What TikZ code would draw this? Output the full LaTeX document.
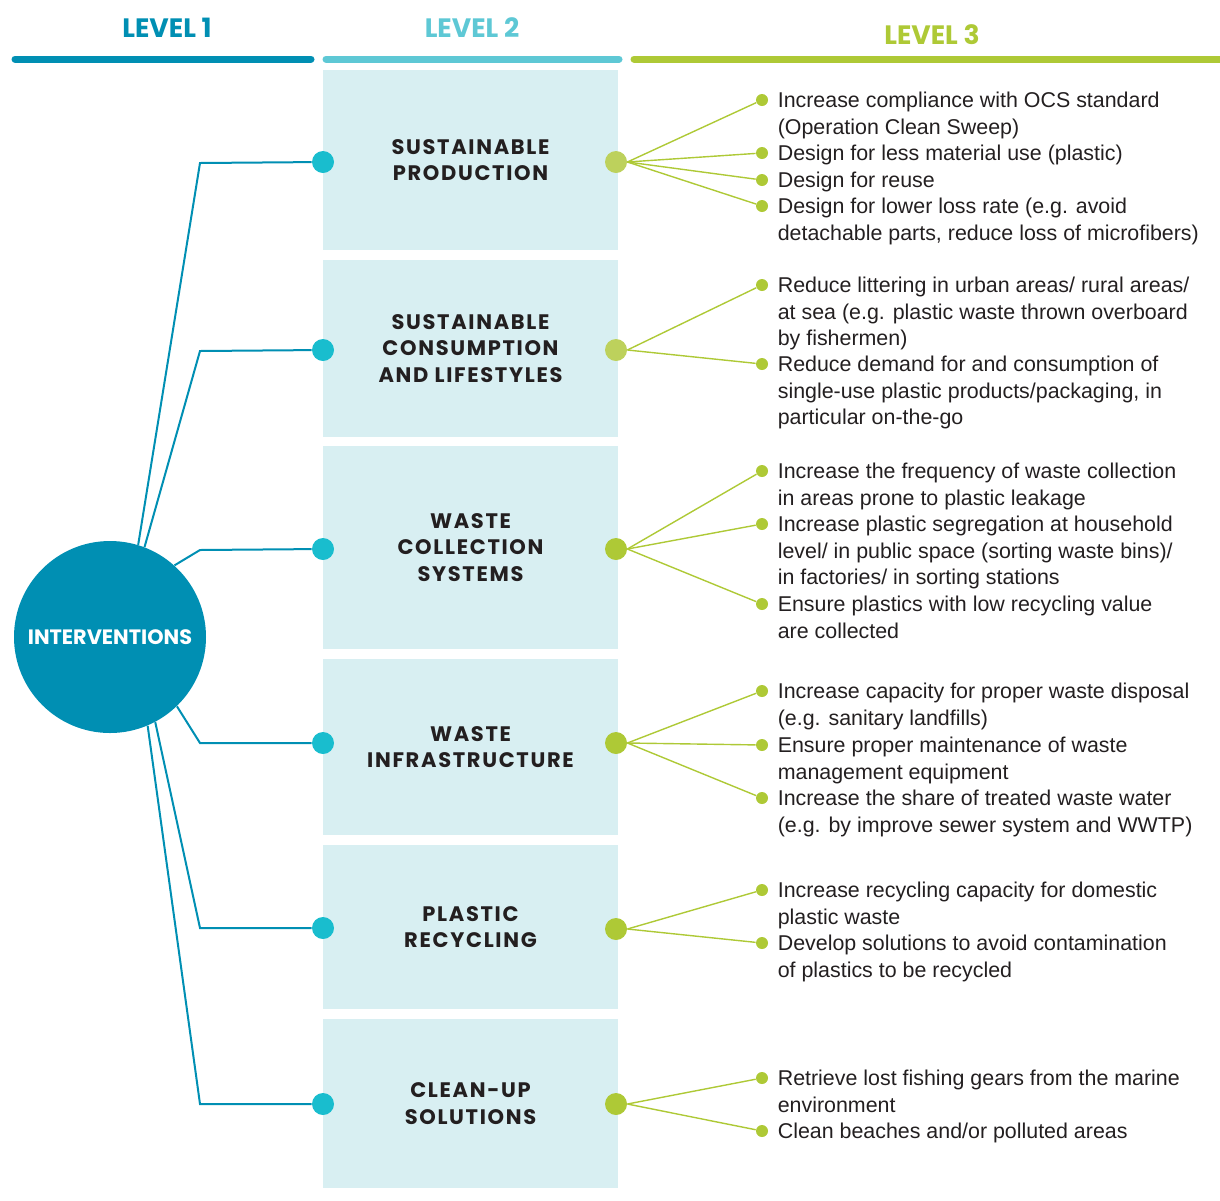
\documentclass[tikz,border=0pt]{standalone}
\usepackage{fontspec}
\setmainfont{Liberation Sans}
\newfontfamily\headfont{Poppins}
\newfontfamily\capsfont{Poppins}[LetterSpace=8]
\usepackage{xcolor}
\definecolor{levelone}{HTML}{008FB3}
\definecolor{leveltwo}{HTML}{5EC8D5}
\definecolor{levelthree}{HTML}{AEC936}
\definecolor{limesoft}{HTML}{BDD15C}
\definecolor{boxfill}{HTML}{D8EFF2}
\definecolor{dotcyan}{HTML}{19BDCE}
\definecolor{ink}{HTML}{231F20}

\begin{document}
\begin{tikzpicture}[x=0.5pt, y=-0.5pt,
    level/.style = {font=\headfont\bfseries\fontsize{13.3}{15}\selectfont},
    bar/.style = {line width=3.5pt, line cap=round},
    box/.style = {rectangle, fill=boxfill, minimum width=147.5pt, inner sep=0pt,
      align=center, text=ink, font=\capsfont\bfseries\fontsize{10.5}{13.25}\selectfont},
    hub/.style = {circle, fill=levelone, minimum size=96pt, inner sep=0pt,
      text=white, font=\headfont\bfseries\fontsize{10.4}{12}\selectfont},
    cdot/.style = {circle, fill=dotcyan, minimum size=11pt, inner sep=0pt},
    ldot/.style = {circle, fill=levelthree, minimum size=11pt, inner sep=0pt},
    bullet/.style = {circle, fill=levelthree, minimum size=6pt, inner sep=0pt},
    item/.style = {anchor=north west, align=left, inner sep=0pt, text=ink,
      font=\fontsize{10.7}{13.25}\selectfont},
    trunk/.style = {draw=levelone, line width=1pt},
    twig/.style = {draw=levelthree, line width=0.7pt}]
  \useasboundingbox (0,0) rectangle (1220,1200);

  % headers
  \node[level, text=levelone] (h1) at (167,28) {LEVEL 1};
  \node[level, text=leveltwo] (h2) at (472,28) {LEVEL 2};
  \node[level, text=levelthree] (h3) at (932,35) {LEVEL 3};
  \draw[bar, levelone] (15,59) -- (311,59);
  \draw[bar, leveltwo] (326,59) -- (619,59);
  \draw[bar, levelthree] (634,59) -- (1226,59);

  % level 2 boxes
  \node[box, minimum height=90pt] (b1) at (470.5,160) {SUSTAINABLE\\PRODUCTION};
  \node[box, minimum height=88.5pt] (b2) at (470.5,348.5) {SUSTAINABLE\\CONSUMPTION\\AND LIFESTYLES};
  \node[box, minimum height=101.5pt] (b3) at (470.5,547.5) {WASTE\\COLLECTION\\SYSTEMS};
  \node[box, minimum height=88pt] (b4) at (470.5,747) {WASTE\\INFRASTRUCTURE};
  \node[box, minimum height=82pt] (b5) at (470.5,927) {PLASTIC\\RECYCLING};
  \node[box, minimum height=84.5pt] (b6) at (470.5,1103.5) {CLEAN-UP\\SOLUTIONS};

  % level 1
  \node[hub] (hub) at (110,637) {INTERVENTIONS};
  \node[cdot] (l1) at (323,162) {};
  \node[cdot] (l2) at (323,350) {};
  \node[cdot] (l3) at (323,549) {};
  \node[cdot] (l4) at (323,743) {};
  \node[cdot] (l5) at (323,928) {};
  \node[cdot] (l6) at (323,1104) {};
  \draw[trunk] (hub.73) -- (200,163) -- (l1);
  \draw[trunk] (hub.69) -- (200,351) -- (l2);
  \draw[trunk] (hub.48) -- (200,550) -- (l3);
  \draw[trunk] (hub.-46) -- (200,743) -- (l4);
  \draw[trunk] (hub.-62) -- (200,928) -- (l5);
  \draw[trunk] (hub.-67) -- (200,1104) -- (l6);

  \node[ldot, fill=limesoft] (r1) at (616,162) {};
  \node[ldot, fill=limesoft] (r2) at (616,350) {};
  \node[ldot] (r3) at (616,549) {};
  \node[ldot] (r4) at (616,743) {};
  \node[ldot] (r5) at (616,929) {};
  \node[ldot] (r6) at (616,1104) {};

  % level 3: sustainable production
  \node[bullet] (p11) at (762,100) {};
  \node[bullet] (p12) at (762,153) {};
  \node[bullet] (p13) at (762,180) {};
  \node[bullet] (p14) at (762,206) {};
  \node[item] at ([xshift=4.5pt,yshift=5.6pt]p11.east) {\strut Increase compliance with OCS standard\\(Operation Clean Sweep)};
  \node[item] at ([xshift=4.5pt,yshift=5.6pt]p12.east) {\strut Design for less material use (plastic)};
  \node[item] at ([xshift=4.5pt,yshift=5.6pt]p13.east) {\strut Design for reuse};
  \node[item] at ([xshift=4.5pt,yshift=5.6pt]p14.east) {\strut Design for lower loss rate (e.g. avoid\\detachable parts, reduce loss of microfibers)};
  \draw[twig] (r1.east) -- (p11);
  \draw[twig] (r1.east) -- (p12);
  \draw[twig] (r1.east) -- (p13);
  \draw[twig] (r1.east) -- (p14);

  % sustainable consumption
  \node[bullet] (p21) at (762,285) {};
  \node[bullet] (p22) at (762,364) {};
  \node[item] at ([xshift=4.5pt,yshift=5.6pt]p21.east) {\strut Reduce littering in urban areas/ rural areas/\\at sea (e.g. plastic waste thrown overboard\\by fishermen)};
  \node[item] at ([xshift=4.5pt,yshift=5.6pt]p22.east) {\strut Reduce demand for and consumption of\\single-use plastic products/packaging, in\\particular on-the-go};
  \draw[twig] (r2.east) -- (p21);
  \draw[twig] (r2.east) -- (p22);

  % waste collection
  \node[bullet] (p31) at (762,471) {};
  \node[bullet] (p32) at (762,524) {};
  \node[bullet] (p33) at (762,604) {};
  \node[item] at ([xshift=4.5pt,yshift=5.6pt]p31.east) {\strut Increase the frequency of waste collection\\in areas prone to plastic leakage};
  \node[item] at ([xshift=4.5pt,yshift=5.6pt]p32.east) {\strut Increase plastic segregation at household\\level/ in public space (sorting waste bins)/\\in factories/ in sorting stations};
  \node[item] at ([xshift=4.5pt,yshift=5.6pt]p33.east) {\strut Ensure plastics with low recycling value\\are collected};
  \draw[twig] (r3.east) -- (p31);
  \draw[twig] (r3.east) -- (p32);
  \draw[twig] (r3.east) -- (p33);

  % waste infrastructure
  \node[bullet] (p41) at (762,691) {};
  \node[bullet] (p42) at (762,745) {};
  \node[bullet] (p43) at (762,798) {};
  \node[item] at ([xshift=4.5pt,yshift=5.6pt]p41.east) {\strut Increase capacity for proper waste disposal\\(e.g. sanitary landfills)};
  \node[item] at ([xshift=4.5pt,yshift=5.6pt]p42.east) {\strut Ensure proper maintenance of waste\\management equipment};
  \node[item] at ([xshift=4.5pt,yshift=5.6pt]p43.east) {\strut Increase the share of treated waste water\\(e.g. by improve sewer system and WWTP)};
  \draw[twig] (r4.east) -- (p41);
  \draw[twig] (r4.east) -- (p42);
  \draw[twig] (r4.east) -- (p43);

  % plastic recycling
  \node[bullet] (p51) at (762,890) {};
  \node[bullet] (p52) at (762,943) {};
  \node[item] at ([xshift=4.5pt,yshift=5.6pt]p51.east) {\strut Increase recycling capacity for domestic\\plastic waste};
  \node[item] at ([xshift=4.5pt,yshift=5.6pt]p52.east) {\strut Develop solutions to avoid contamination\\of plastics to be recycled};
  \draw[twig] (r5.east) -- (p51);
  \draw[twig] (r5.east) -- (p52);

  % clean-up
  \node[bullet] (p61) at (762,1078) {};
  \node[bullet] (p62) at (762,1131) {};
  \node[item] at ([xshift=4.5pt,yshift=5.6pt]p61.east) {\strut Retrieve lost fishing gears from the marine\\environment};
  \node[item] at ([xshift=4.5pt,yshift=5.6pt]p62.east) {\strut Clean beaches and/or polluted areas};
  \draw[twig] (r6.east) -- (p61);
  \draw[twig] (r6.east) -- (p62);
\end{tikzpicture}
\end{document}
